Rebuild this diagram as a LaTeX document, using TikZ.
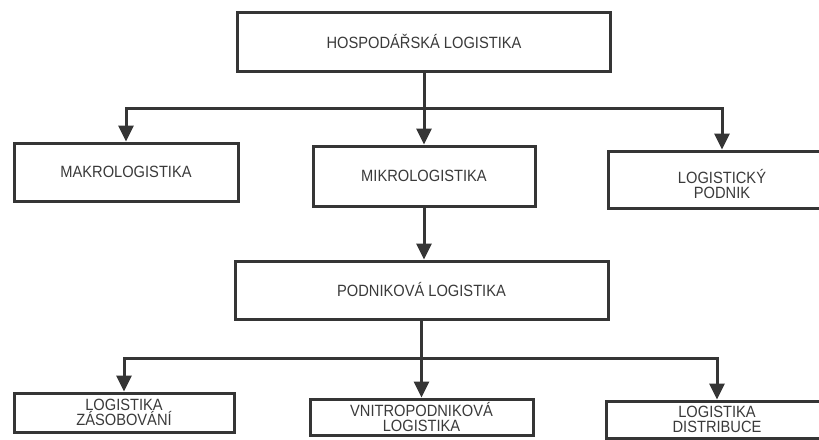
\documentclass[tikz,border=0pt]{standalone}
\usepackage{fontspec}
\setmainfont{Liberation Sans}[FakeStretch=0.9]
\usetikzlibrary{arrows.meta}
\definecolor{ink}{HTML}{353535}
\definecolor{txt}{HTML}{3A3A3A}
\tikzset{
  box/.style={draw=ink, line width=3pt, rectangle, inner sep=0pt, align=center,
    text=txt, font=\fontsize{16.3}{15.5}\selectfont},
  conn/.style={draw=ink, line width=3pt},
  arr/.style={conn, -{Triangle[length=16pt,width=15pt]}},
}
\begin{document}
\begin{tikzpicture}[x=1pt,y=-1pt]
\useasboundingbox (0,0) rectangle (819,439);
\clip (0,0) rectangle (819,439);
\fill[white] (0,0) rectangle (819,439);
% boxes
\node[box, minimum width=373pt, minimum height=59pt] (top) at (424,41.5) {HOSPODÁŘSKÁ LOGISTIKA};
\node[box, minimum width=224pt, minimum height=58pt] (makro) at (126,172) {MAKROLOGISTIKA};
\node[box, minimum width=222pt, minimum height=60pt] (mikro) at (424,176) {MIKROLOGISTIKA};
\node[box, minimum width=228pt, minimum height=57pt] (logist) at (722,179.5) {};
\node[txt, align=center, font=\fontsize{16.3}{15.5}\selectfont, inner sep=0pt] (logistT) at (722,184) {LOGISTICKÝ\\PODNIK};
\node[box, minimum width=373pt, minimum height=58pt] (podnik) at (421.5,290) {PODNIKOVÁ LOGISTIKA};
\node[box, minimum width=220pt, minimum height=39pt] (zasob) at (124,412.5) {LOGISTIKA\\ZÁSOBOVÁNÍ};
\node[box, minimum width=223pt, minimum height=36pt] (vnitro) at (421.5,417) {VNITROPODNIKOVÁ\\LOGISTIKA};
\node[box, minimum width=222pt, minimum height=37pt] (distrib) at (717,419.5) {LOGISTIKA\\DISTRIBUCE};
% junctions
\coordinate (j1) at (424,108);
\coordinate (j2) at (421.5,358);
% connectors top level
\draw[conn] (top.south) -- (j1);
\draw[arr] (j1) -| (makro.north);
\draw[arr] (j1) -- (mikro.north);
\draw[arr] (j1) -| (logist.north);
% mikro to podnik
\draw[arr] (mikro.south) -- (mikro.south |- podnik.north);
% bottom level
\draw[conn] (podnik.south) -- (j2);
\draw[arr] (j2) -| (zasob.north);
\draw[arr] (j2) -- (vnitro.north);
\draw[arr] (j2) -| (distrib.north);
\end{tikzpicture}
\end{document}
